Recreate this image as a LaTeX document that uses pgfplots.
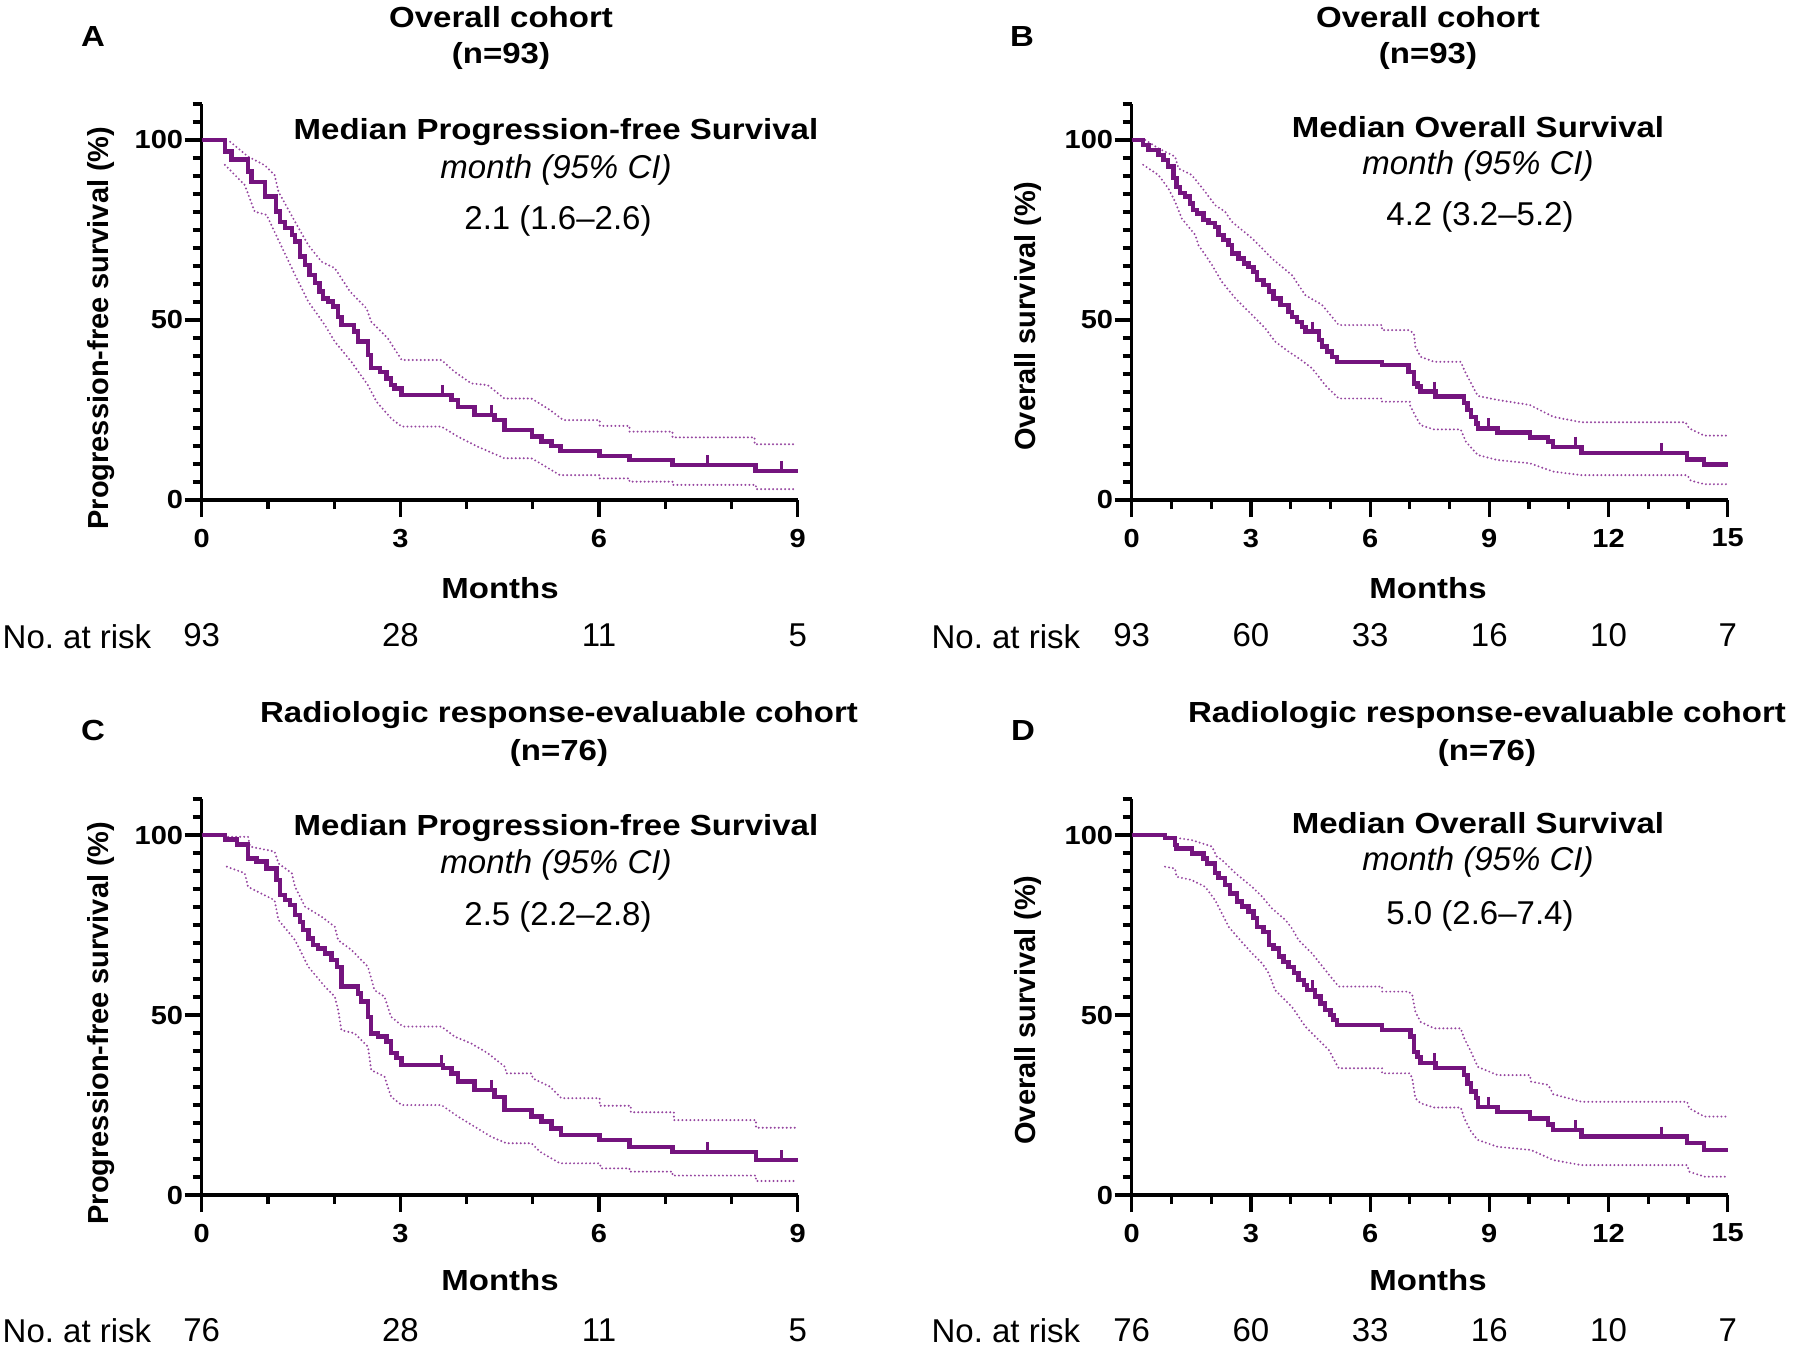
\documentclass[border=0pt]{standalone}
\usepackage{fontspec}
\setmainfont{Liberation Sans}
\usepackage{pgfplots}
\pgfplotsset{compat=1.18}

\definecolor{kmpurple}{RGB}{116,20,126}
\definecolor{kmci}{RGB}{150,70,160}

\newcommand\lab{\fontsize{16.5}{19}\selectfont}

\tikzset{
  risk/.style={font=\lab, inner sep=0pt, yshift=-67.5pt},
  bold/.style={font=\lab\bfseries, yscale=0.88},
}

\pgfplotsset{
  km/.style={
    scale only axis, width=298pt, height=198pt,
    axis lines=left, axis line style={-, line width=1.6pt},
    xmin=0, ymin=0, ymax=110,
    ytick={0,50,100}, minor ytick={5,10,...,110},
    tick align=outside, major tick length=8.5pt, minor tick length=4.5pt,
    tick style={black, line width=1.6pt},
    tick label style={font=\fontsize{14.5}{17}\selectfont\bfseries, yscale=0.9},
    yticklabel style={inner sep=0pt, xshift=-0.6pt},
    xticklabel style={yshift=-3pt},
    /pgf/number format/assume math mode=true,
    clip=false,
  },
  km9/.style={km, xmax=9, xtick={0,3,6,9}, minor xtick={1,2,4,5,7,8}},
  km15/.style={km, xmax=15, xtick={0,3,...,15}, minor xtick={1,2,4,5,7,8,10,11,13,14}},
  surv/.style={const plot, color=kmpurple, line width=2.2pt},
  ci/.style={color=kmci, line width=1.1pt, line cap=round, dash pattern=on 0pt off 2pt},
  cens/.style={only marks, color=kmpurple, mark=|, mark size=3pt,
    mark options={line width=1.5pt, yshift=2pt}},
}

\begin{document}
\begin{tikzpicture}
\useasboundingbox (0,0) rectangle (898pt,-675.5pt);

% ---------- A: PFS, overall cohort
\begin{axis}[km9, at={(100.85pt,-250pt)}, anchor=south west]
\addplot[ci] coordinates {
 (0.43,99.5) (0.70,95.4) (0.95,93.0) (1.10,90.3) (1.16,85.6) (1.41,77.3) (1.61,70.8)
 (1.81,66.2) (2.01,64.4) (2.24,57.9) (2.49,53.2) (2.56,49.5) (2.81,44.9) (3.02,38.9)
 (3.62,38.9) (3.82,35.6) (4.07,32.4) (4.32,31.9) (4.57,28.2) (4.98,28.2) (5.26,25.0)
 (5.46,22.2) (6.01,22.2) (6.01,20.6) (6.46,20.6) (6.46,19.0) (7.11,19.0) (7.11,17.4)
 (8.35,17.4) (8.35,15.5) (8.98,15.5) };
\addplot[ci] coordinates {
 (0.35,93.1) (0.65,87.5) (0.80,80.1) (0.98,79.2) (1.10,74.5) (1.41,62.5) (1.61,55.1)
 (1.86,48.6) (2.01,44.0) (2.26,38.4) (2.51,31.9) (2.64,27.3) (2.86,22.7) (3.02,20.4)
 (3.62,20.4) (3.87,17.6) (4.17,14.8) (4.52,12.0) (4.57,11.6) (4.98,11.6) (5.11,10.2)
 (5.41,6.9) (6.01,6.9) (6.01,6.0) (6.46,6.0) (6.46,5.1) (7.11,5.1) (7.11,4.2)
 (8.37,4.2) (8.37,3.0) (8.98,3.0) };
\addplot[surv] coordinates {
 (0,100) (0.35,96.8) (0.45,94.6) (0.70,91.2) (0.75,88.4) (0.96,84.3) (1.12,80.1)
 (1.18,77.3) (1.26,75.5) (1.36,73.6) (1.41,71.8) (1.48,67.6) (1.56,65.3) (1.63,62.5)
 (1.71,60.2) (1.78,57.9) (1.83,56.0) (1.91,55.1) (1.98,53.7) (2.06,50.9) (2.11,48.6)
 (2.30,46.8) (2.36,44.0) (2.51,40.3) (2.56,36.6) (2.69,35.6) (2.79,33.8) (2.86,31.9)
 (2.91,31.0) (3.02,29.2) (3.77,27.8) (3.87,25.9) (4.12,23.6) (4.42,22.2) (4.57,19.4)
 (4.99,17.6) (5.13,16.2) (5.28,15.0) (5.42,13.6) (6.01,12.3) (6.46,11.1) (7.11,9.7)
 (8.36,8.1) (9.0,8.1) };
\addplot[cens] coordinates {(3.64,29.2) (4.37,23.6) (7.64,9.7) (8.75,8.1)};
\node[risk] at (axis cs:0,0) {93};
\node[risk] at (axis cs:3,0) {28};
\node[risk] at (axis cs:6,0) {11};
\node[risk] at (axis cs:9,0) {5};
\end{axis}

% ---------- B: OS, overall cohort
\begin{axis}[km15, at={(565.85pt,-250pt)}, anchor=south west]
\addplot[ci] coordinates {
 (0.34,100) (0.67,97.7) (1.09,95.4) (1.18,92.1) (1.51,90.3) (1.85,85.6) (2.10,81.9)
 (2.35,80.1) (2.52,77.3) (3.03,72.7) (3.28,69.9) (3.53,67.1) (4.03,62.5) (4.37,56.9)
 (4.79,54.2) (5.21,48.6) (6.30,48.6) (6.30,47.2) (6.97,47.2) (7.10,46.3) (7.14,42.6)
 (7.27,39.8) (7.61,38.4) (8.28,38.4) (8.41,35.2) (8.71,28.9) (9.21,27.8) (10.02,26.4)
 (10.61,23.1) (11.32,21.6) (13.94,21.6) (14.03,19.9) (14.41,17.9) (14.96,17.9) };
\addplot[ci] coordinates {
 (0.29,93.1) (0.67,90.3) (0.92,86.6) (1.09,82.9) (1.26,78.2) (1.60,73.6) (1.68,70.8)
 (1.85,68.1) (2.02,65.3) (2.27,60.6) (2.61,56.0) (3.03,51.4) (3.36,47.7) (3.61,44.0)
 (3.95,41.2) (4.20,39.4) (4.54,36.6) (4.87,31.9) (5.21,28.2) (6.30,28.2) (6.30,27.3)
 (7.00,27.3) (7.00,26.4) (7.15,23.1) (7.27,20.8) (7.61,19.6) (8.28,19.6) (8.41,16.2)
 (8.71,12.5) (9.21,11.1) (10.02,10.2) (10.61,7.9) (11.32,6.9) (13.98,6.9) (14.07,5.4)
 (14.41,4.4) (14.96,4.4) };
\addplot[surv] coordinates {
 (0,100) (0.29,98.6) (0.42,97.2) (0.67,95.8) (0.80,94.4) (0.92,92.6) (1.05,89.4)
 (1.13,87.0) (1.22,85.2) (1.34,84.3) (1.47,82.4) (1.55,80.6) (1.64,79.6) (1.81,77.8)
 (1.93,76.9) (2.10,75.9) (2.18,73.6) (2.31,72.2) (2.44,70.8) (2.52,68.5) (2.69,67.1)
 (2.82,65.7) (2.94,64.8) (3.07,63.4) (3.15,61.1) (3.32,59.7) (3.45,57.9) (3.57,56.0)
 (3.74,54.2) (3.95,52.3) (4.03,50.9) (4.16,49.5) (4.29,48.1) (4.37,46.8) (4.71,44.4)
 (4.79,42.6) (4.92,41.2) (5.04,39.8) (5.17,38.4) (6.30,37.5) (6.97,35.6) (7.10,32.4)
 (7.19,31.5) (7.27,30.1) (7.65,28.7) (8.36,26.9) (8.45,25.0) (8.54,23.1) (8.66,21.3)
 (8.71,19.9) (9.21,18.7) (10.02,17.4) (10.48,16.2) (10.61,14.8) (11.32,13.1)
 (13.98,11.3) (14.41,9.9) (15,9.9) };
\addplot[cens] coordinates {(4.54,46.8) (7.61,30.1) (8.98,19.9) (11.16,14.8) (13.33,13.1)};
\node[risk] at (axis cs:0,0) {93};
\node[risk] at (axis cs:3,0) {60};
\node[risk] at (axis cs:6,0) {33};
\node[risk] at (axis cs:9,0) {16};
\node[risk] at (axis cs:12,0) {10};
\node[risk] at (axis cs:15,0) {7};
\end{axis}

% ---------- C: PFS, response-evaluable cohort
\begin{axis}[km9, at={(100.85pt,-597.5pt)}, anchor=south west]
\addplot[ci] coordinates {
 (0.40,99.5) (0.70,99.5) (0.73,96.8) (1.10,95.4) (1.16,92.1) (1.36,89.4) (1.41,85.6)
 (1.56,80.1) (1.81,77.3) (2.01,74.5) (2.06,70.8) (2.26,68.1) (2.51,63.4) (2.61,56.9)
 (2.76,55.1) (2.86,49.5) (3.04,46.8) (3.62,46.8) (3.82,44.0) (4.07,42.1) (4.32,39.4)
 (4.58,35.6) (4.60,33.8) (4.98,33.8) (5.00,32.4) (5.26,30.1) (5.43,26.9) (6.01,26.9)
 (6.01,24.8) (6.48,24.8) (6.48,23.0) (7.13,23.0) (7.13,20.8) (8.37,20.8) (8.37,18.7)
 (8.98,18.7) };
\addplot[ci] coordinates {
 (0.38,91.2) (0.65,89.4) (0.70,85.6) (1.10,81.9) (1.16,76.4) (1.41,70.8) (1.61,63.4)
 (1.86,57.9) (2.01,55.1) (2.06,51.4) (2.11,45.8) (2.31,44.9) (2.51,41.2) (2.56,34.7)
 (2.76,32.9) (2.86,27.3) (3.02,25.0) (3.62,25.0) (3.87,21.8) (4.12,19.0) (4.37,16.2)
 (4.60,14.4) (4.98,14.4) (5.11,12.0) (5.41,8.8) (6.01,8.8) (6.03,7.4) (6.46,7.4)
 (6.46,6.5) (7.11,6.5) (7.11,5.4) (8.37,5.4) (8.37,3.9) (8.98,3.9) };
\addplot[surv] coordinates {
 (0,100) (0.35,98.7) (0.53,97.4) (0.70,93.5) (0.83,92.6) (0.98,90.7) (1.13,87.5)
 (1.18,83.3) (1.26,81.9) (1.33,80.6) (1.41,77.8) (1.48,75.9) (1.53,73.6) (1.61,71.3)
 (1.68,69.4) (1.76,68.5) (1.86,67.1) (1.96,65.3) (2.04,63.4) (2.11,57.9) (2.36,56.0)
 (2.41,53.7) (2.51,49.5) (2.56,44.9) (2.66,44.0) (2.79,42.6) (2.86,39.4) (2.94,38.0)
 (3.02,36.1) (3.64,35.2) (3.77,33.8) (3.87,31.5) (4.12,29.2) (4.42,27.3) (4.57,23.6)
 (4.98,21.8) (5.13,20.4) (5.28,18.5) (5.43,16.7) (6.01,15.3) (6.46,13.4) (7.11,12.0)
 (8.37,9.7) (9.0,9.7) };
\addplot[cens] coordinates {(3.62,36.1) (4.37,29.2) (7.64,12.0) (8.75,9.7)};
\node[risk] at (axis cs:0,0) {76};
\node[risk] at (axis cs:3,0) {28};
\node[risk] at (axis cs:6,0) {11};
\node[risk] at (axis cs:9,0) {5};
\end{axis}

% ---------- D: OS, response-evaluable cohort
\begin{axis}[km15, at={(565.85pt,-597.5pt)}, anchor=south west]
\addplot[ci] coordinates {
 (0.92,99.5) (1.51,98.6) (2.02,96.8) (2.14,94.0) (2.27,93.1) (2.61,89.4) (3.03,85.6)
 (3.28,82.9) (3.53,79.6) (3.87,76.4) (4.03,74.1) (4.20,70.8) (4.54,67.1) (4.87,62.5)
 (5.21,57.9) (6.30,57.9) (6.30,56.5) (6.97,56.5) (7.06,55.6) (7.14,50.9) (7.27,48.1)
 (7.61,46.3) (8.28,46.3) (8.37,43.5) (8.54,39.8) (8.71,35.6) (9.21,33.3) (10.02,33.3)
 (10.05,31.5) (10.48,30.6) (10.61,28.0) (11.32,25.9) (13.98,25.9) (14.03,24.1)
 (14.41,21.8) (14.96,21.8) };
\addplot[ci] coordinates {
 (0.84,91.2) (1.09,90.7) (1.13,88.4) (1.51,87.5) (1.85,85.6) (2.10,81.9) (2.27,78.2)
 (2.44,74.5) (2.69,71.3) (3.03,67.1) (3.28,64.4) (3.45,61.6) (3.61,56.9) (4.03,52.3)
 (4.37,46.8) (4.62,44.0) (4.96,40.3) (5.21,35.2) (6.30,35.2) (6.30,33.8) (7.00,33.8)
 (7.06,32.4) (7.14,26.9) (7.27,25.5) (7.61,24.3) (8.28,24.3) (8.37,21.3) (8.54,17.6)
 (8.71,15.3) (9.21,13.4) (10.05,12.5) (10.61,9.7) (11.32,8.3) (13.98,8.3) (14.03,6.5)
 (14.41,5.1) (14.96,5.1) };
\addplot[surv] coordinates {
 (0,100) (0.84,99.1) (1.09,97.2) (1.13,96.3) (1.51,94.9) (1.81,93.5) (1.89,92.1)
 (2.10,89.4) (2.18,88.0) (2.35,86.1) (2.48,83.8) (2.65,81.5) (2.77,80.1) (2.94,78.7)
 (3.07,76.9) (3.15,74.5) (3.32,73.1) (3.45,69.4) (3.57,68.5) (3.70,66.2) (3.82,64.8)
 (3.95,63.4) (4.08,61.6) (4.20,59.7) (4.33,58.3) (4.41,56.9) (4.62,55.1) (4.75,53.2)
 (4.87,51.4) (5.00,50.0) (5.08,48.6) (5.17,47.2) (6.30,45.8) (7.02,44.0) (7.10,39.8)
 (7.19,38.4) (7.27,36.6) (7.65,35.2) (8.36,33.3) (8.45,31.0) (8.54,28.7) (8.66,26.9)
 (8.71,24.5) (9.21,23.1) (10.02,21.3) (10.48,19.6) (10.61,18.1) (11.32,16.2)
 (13.98,14.4) (14.41,12.5) (15,12.5) };
\addplot[cens] coordinates {(4.54,56.9) (7.61,36.6) (8.98,24.5) (11.16,18.1) (13.33,16.2)};
\node[risk] at (axis cs:0,0) {76};
\node[risk] at (axis cs:3,0) {60};
\node[risk] at (axis cs:6,0) {33};
\node[risk] at (axis cs:9,0) {16};
\node[risk] at (axis cs:12,0) {10};
\node[risk] at (axis cs:15,0) {7};
\end{axis}

% ---------- text around the panels
\begin{scope}[every node/.style={inner sep=0pt, font=\lab}]
% panel letters
\node[bold] at (46.5pt,-18.5pt) {A};
\node[bold] at (511pt,-18.5pt) {B};
\node[bold] at (46.5pt,-365pt) {C};
\node[bold] at (511.5pt,-365pt) {D};
% titles
\node[bold] at (250.5pt,-8.5pt) {Overall cohort};
\node[bold] at (250.5pt,-28.2pt) {(n=93)};
\node[bold] at (714pt,-8.5pt) {Overall cohort};
\node[bold] at (714pt,-28.2pt) {(n=93)};
\node[bold] at (279.5pt,-357.7pt) {Radiologic response-evaluable cohort};
\node[bold] at (279.5pt,-376.7pt) {(n=76)};
\node[bold] at (743.5pt,-357.7pt) {Radiologic response-evaluable cohort};
\node[bold] at (743.5pt,-376.7pt) {(n=76)};
% medians
\node[bold] at (278pt,-66pt) {Median Progression-free Survival};
\node[font=\lab\itshape] at (278pt,-85pt) {month (95\% CI)};
\node at (279pt,-110.5pt) {2.1 (1.6–2.6)};
\node[bold] at (739pt,-63.5pt) {Median Overall Survival};
\node[font=\lab\itshape] at (739pt,-83pt) {month (95\% CI)};
\node at (740pt,-108.5pt) {4.2 (3.2–5.2)};
\node[bold] at (278pt,-414pt) {Median Progression-free Survival};
\node[font=\lab\itshape] at (278pt,-432.5pt) {month (95\% CI)};
\node at (279pt,-458.5pt) {2.5 (2.2–2.8)};
\node[bold] at (739pt,-411.5pt) {Median Overall Survival};
\node[font=\lab\itshape] at (739pt,-431pt) {month (95\% CI)};
\node at (740pt,-458pt) {5.0 (2.6–7.4)};
% axis labels
\node[bold] at (250pt,-294pt) {Months};
\node[bold] at (714pt,-294pt) {Months};
\node[bold] at (250pt,-640pt) {Months};
\node[bold] at (714pt,-640pt) {Months};
\node[font=\fontsize{14.5}{17}\selectfont\bfseries, rotate=90] at (50.5pt,-164pt) {Progression-free survival (\%)};
\node[font=\fontsize{14.5}{17}\selectfont\bfseries, rotate=90] at (514pt,-158pt) {Overall survival (\%)};
\node[font=\fontsize{14.5}{17}\selectfont\bfseries, rotate=90] at (50.5pt,-511.5pt) {Progression-free survival (\%)};
\node[font=\fontsize{14.5}{17}\selectfont\bfseries, rotate=90] at (514pt,-505pt) {Overall survival (\%)};
% number at risk
\node[anchor=west] at (1.15pt,-318.5pt) {No.\ at risk};
\node[anchor=west] at (465.6pt,-318.5pt) {No.\ at risk};
\node[anchor=west] at (1.15pt,-665.5pt) {No.\ at risk};
\node[anchor=west] at (465.6pt,-665.5pt) {No.\ at risk};
\end{scope}
\end{tikzpicture}
\end{document}
